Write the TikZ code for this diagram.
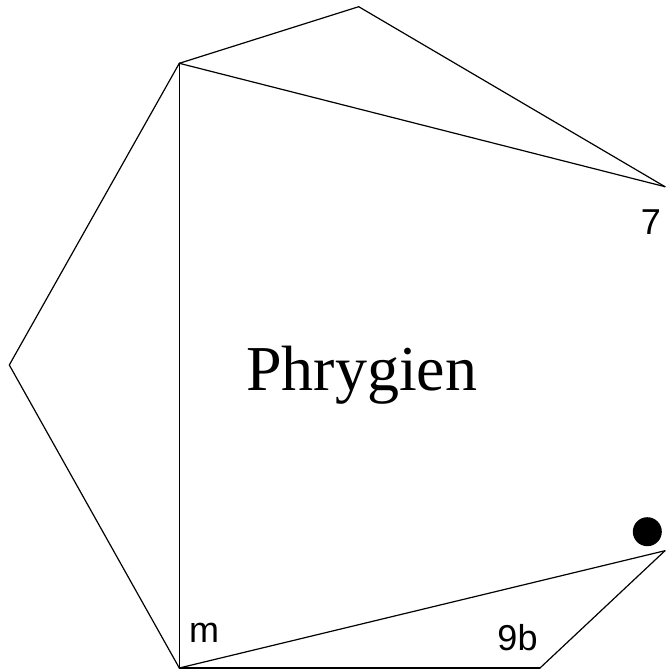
\documentclass[tikz,border=0pt]{standalone}
\usepackage{fontspec}
\setmainfont{Liberation Serif}
\newfontfamily\labfont{Liberation Sans}

\begin{document}
\begin{tikzpicture}[x=1pt, y=-1pt, line width=1.2pt, line cap=round, line join=round]

  % ── 七个顶点（像素坐标，y 向下）──
  \coordinate (top)  at (358.7,6.7);
  \coordinate (ul)   at (179.3,63.3);
  \coordinate (rt)   at (665.0,186.7);
  \coordinate (lft)  at (9.3,365.0);
  \coordinate (rlow) at (665.0,550.7);
  \coordinate (bl)   at (179.3,668.0);
  \coordinate (br)   at (540.0,668.0);

  % ── 外轮廓与内部连线 ──
  \foreach \a/\b in {ul/top, top/rt, ul/rt, ul/lft, lft/bl, ul/bl, bl/br, br/rlow, bl/rlow}
    \draw (\a) -- (\b);

  % ── 实心点 ──
  \fill (647.3,531.7) circle (14.5);

  % ── 标签（\x/\y 为基线中心）──
  \foreach \x/\y/\lab in {651.0/234.0/7, 204.0/642.0/m, 517.5/650.0/9b}
    \node (lab\lab) [anchor=base,inner sep=0pt,font=\labfont\fontsize{36}{40}\selectfont] at (\x,\y) {\lab};

  \node (mode) [anchor=base,inner sep=0pt,font=\fontsize{64}{70}\selectfont] at (361.7,390.0) {Phrygien};

  % 钉死画布
  \path[use as bounding box] (0,0) rectangle (665,669);
\end{tikzpicture}
\end{document}
